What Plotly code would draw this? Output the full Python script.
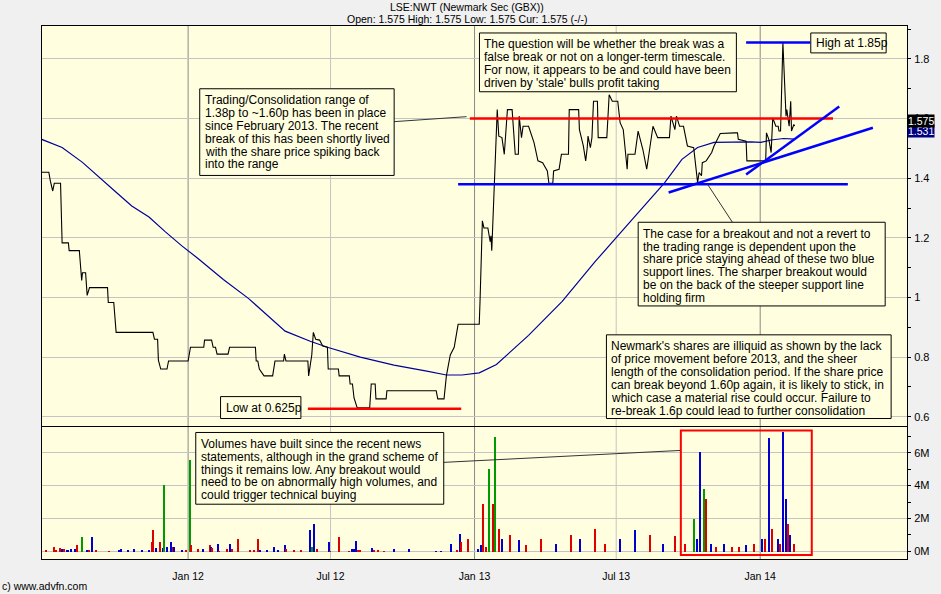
import plotly.graph_objects as go

# ------------------------------------------------------------------ data
price_dates = [
    "2011-06-28", "2011-07-07", "2011-07-09", "2011-07-12", "2011-07-14", "2011-07-22", "2011-07-24",
    "2011-08-01", "2011-08-02", "2011-08-15", "2011-08-18", "2011-08-19", "2011-08-23", "2011-08-25",
    "2011-08-28", "2011-09-20", "2011-09-21", "2011-09-28", "2011-10-01", "2011-11-17", "2011-11-19",
    "2011-11-23", "2011-11-24", "2011-11-27", "2011-12-05", "2011-12-07",
    "2012-01-01", "2012-01-04", "2012-01-21", "2012-01-22", "2012-01-31", "2012-02-02", "2012-02-05",
    "2012-02-07", "2012-02-21", "2012-02-23", "2012-03-27", "2012-03-28", "2012-03-30", "2012-04-01",
    "2012-04-07", "2012-04-18", "2012-04-21", "2012-05-02", "2012-05-03", "2012-05-05", "2012-06-02",
    "2012-06-03", "2012-06-07", "2012-06-09", "2012-06-12", "2012-06-17", "2012-06-21", "2012-06-27",
    "2012-06-28", "2012-07-11", "2012-07-12", "2012-07-25", "2012-07-26", "2012-07-29", "2012-07-31",
    "2012-08-04", "2012-08-20", "2012-08-22", "2012-08-27", "2012-08-28", "2012-09-10", "2012-09-11",
    "2012-11-13", "2012-11-15", "2012-11-23", "2012-11-26", "2012-12-01", "2012-12-06", "2012-12-11",
    "2013-01-07", "2013-01-08", "2013-01-11", "2013-01-13", "2013-01-18", "2013-01-21", "2013-01-22",
    "2013-01-23", "2013-01-30", "2013-02-01", "2013-02-05", "2013-02-08", "2013-02-12", "2013-02-18",
    "2013-02-22", "2013-02-26", "2013-02-27", "2013-03-02", "2013-03-04", "2013-03-11", "2013-03-18",
    "2013-03-23", "2013-03-29", "2013-04-04", "2013-04-06", "2013-04-11", "2013-04-12", "2013-04-19",
    "2013-04-22", "2013-05-01", "2013-05-02", "2013-05-14", "2013-05-15", "2013-05-20", "2013-05-23",
    "2013-05-25", "2013-05-26", "2013-05-29", "2013-05-31", "2013-06-02", "2013-06-07", "2013-06-08",
    "2013-06-19", "2013-06-21", "2013-06-22", "2013-06-26", "2013-07-03", "2013-07-06", "2013-07-10",
    "2013-07-15", "2013-07-16", "2013-07-25", "2013-07-29", "2013-08-04", "2013-08-09", "2013-08-17",
    "2013-08-23", "2013-09-07", "2013-09-09", "2013-09-14", "2013-09-16", "2013-09-20", "2013-09-25",
    "2013-09-30", "2013-10-08", "2013-10-13", "2013-10-15", "2013-10-18", "2013-10-19", "2013-10-24",
    "2013-10-31", "2013-11-03", "2013-11-11", "2013-11-29", "2013-12-03", "2013-12-04", "2013-12-14",
    "2013-12-15",
    "2014-01-08", "2014-01-09", "2014-01-12", "2014-01-15", "2014-01-17", "2014-01-21", "2014-01-24",
    "2014-01-25", "2014-01-27", "2014-01-30", "2014-02-02", "2014-02-03", "2014-02-04", "2014-02-07",
    "2014-02-09", "2014-02-10", "2014-02-13", "2014-02-14",
]
price_values = [
    1.42, 1.42, 1.39, 1.357, 1.383, 1.383, 1.183,
    1.183, 1.157, 1.157, 1.057, 1.083, 1.083, 1.007,
    1.033, 1.033, 0.983, 0.983, 0.883, 0.883, 0.86,
    0.86, 0.79, 0.76, 0.76, 0.787,
    0.787, 0.833, 0.833, 0.857, 0.857, 0.833, 0.833,
    0.81, 0.81, 0.833, 0.833, 0.787, 0.787, 0.76,
    0.737, 0.737, 0.787, 0.787, 0.81, 0.787, 0.787,
    0.737, 0.807, 0.883, 0.86, 0.857, 0.837, 0.833,
    0.76, 0.76, 0.737, 0.737, 0.71, 0.71, 0.663,
    0.63, 0.63, 0.71, 0.71, 0.66, 0.66, 0.687,
    0.687, 0.66, 0.66, 0.737, 0.807, 0.833, 0.91,
    0.91, 0.987, 1.257, 1.233, 1.233, 1.187, 1.207,
    1.157, 1.63, 1.541, 1.536, 1.48, 1.63, 1.63,
    1.48, 1.48, 1.608, 1.536, 1.574, 1.574, 1.519,
    1.458, 1.452, 1.424, 1.383, 1.383, 1.424, 1.43,
    1.48, 1.48, 1.63, 1.63, 1.563, 1.508, 1.458,
    1.502, 1.541, 1.502, 1.536, 1.658, 1.658, 1.536,
    1.536, 1.63, 1.68, 1.658, 1.658, 1.586, 1.563,
    1.43, 1.48, 1.48, 1.558, 1.497, 1.43, 1.574,
    1.536, 1.536, 1.608, 1.563, 1.608, 1.574, 1.574,
    1.508, 1.502, 1.386, 1.419, 1.408, 1.452, 1.458,
    1.486, 1.508, 1.55, 1.552, 1.552, 1.53, 1.524,
    1.458,
    1.458, 1.552, 1.53, 1.486, 1.602, 1.574, 1.574,
    1.558, 1.558, 1.855, 1.652, 1.608, 1.63, 1.574,
    1.658, 1.558, 1.58, 1.575,
]

ma_dates = [
    "2011-06-28", "2011-07-24", "2011-08-19", "2011-09-09", "2011-10-01", "2011-10-21", "2011-11-12",
    "2011-12-03", "2011-12-24", "2012-01-14", "2012-02-15", "2012-03-18", "2012-05-04", "2012-06-05",
    "2012-06-27", "2012-08-08", "2012-09-20", "2012-11-01", "2012-11-26", "2012-12-16", "2013-01-07",
    "2013-01-29", "2013-03-11", "2013-04-23", "2013-06-04", "2013-07-21", "2013-09-01", "2013-09-23",
    "2013-10-13", "2013-11-03", "2013-12-20", "2014-01-02", "2014-01-15", "2014-01-31", "2014-02-14",
]
ma_values = [
    1.53, 1.503, 1.453, 1.403, 1.353, 1.307, 1.27,
    1.22, 1.173, 1.13, 1.06, 0.997, 0.887, 0.853,
    0.833, 0.80, 0.773, 0.753, 0.74, 0.74, 0.747,
    0.775, 0.873, 0.987, 1.12, 1.26, 1.385, 1.463,
    1.503, 1.52, 1.522, 1.52, 1.528, 1.533, 1.531,
]

vol_dates = [
    "2011-07-04", "2011-07-14", "2011-07-17", "2011-07-21", "2011-07-24", "2011-07-27", "2011-07-30",
    "2011-08-01", "2011-08-05", "2011-08-10", "2011-08-12", "2011-08-19", "2011-08-25", "2011-08-28",
    "2011-08-31", "2011-09-01", "2011-09-06", "2011-09-22", "2011-10-05", "2011-10-08", "2011-10-17",
    "2011-10-24", "2011-11-03", "2011-11-12", "2011-11-16", "2011-11-18", "2011-11-21", "2011-11-27",
    "2011-11-30", "2011-12-02", "2011-12-05", "2011-12-11", "2011-12-13", "2011-12-14", "2011-12-24",
    "2011-12-30",
    "2012-01-04", "2012-01-05", "2012-01-14", "2012-01-20", "2012-01-29", "2012-01-31", "2012-02-01",
    "2012-02-08", "2012-02-10", "2012-02-20", "2012-02-24", "2012-02-27", "2012-03-05", "2012-03-20",
    "2012-03-26", "2012-03-31", "2012-04-02", "2012-04-11", "2012-04-20", "2012-04-25", "2012-05-04",
    "2012-05-05", "2012-05-16", "2012-05-24", "2012-06-05", "2012-06-07", "2012-06-10", "2012-06-14",
    "2012-06-29", "2012-07-01", "2012-07-12", "2012-07-25", "2012-07-29", "2012-07-31", "2012-08-03",
    "2012-08-05", "2012-08-08", "2012-08-23", "2012-08-26", "2012-08-31", "2012-09-08", "2012-09-21",
    "2012-10-09", "2012-11-13", "2012-11-20", "2012-12-02", "2012-12-10", "2012-12-14", "2012-12-15",
    "2012-12-24",
    "2013-01-06", "2013-01-09", "2013-01-12", "2013-01-16", "2013-01-20", "2013-01-25", "2013-01-27",
    "2013-02-01", "2013-02-06", "2013-02-16", "2013-02-27", "2013-03-08", "2013-03-27", "2013-04-15",
    "2013-05-04", "2013-05-16", "2013-06-04", "2013-06-17", "2013-07-06", "2013-07-25", "2013-08-13",
    "2013-08-30", "2013-09-14", "2013-09-27", "2013-10-09", "2013-10-13", "2013-10-17", "2013-10-21",
    "2013-10-24", "2013-10-30", "2013-11-06", "2013-11-16", "2013-11-26", "2013-12-05", "2013-12-14",
    "2013-12-24",
    "2014-01-03", "2014-01-08", "2014-01-13", "2014-01-17", "2014-01-24", "2014-01-27", "2014-01-31",
    "2014-02-03", "2014-02-06", "2014-02-09", "2014-02-13",
]
vol_millions = [
    0.06, 0.26, 0.1, 0.2, 0.14, 0.14, 0.06,
    0.06, 0.18, 0.14, 0.4, 0.9, 0.1, 0.06,
    0.9, 0.26, 0.06, 0.04, 0.06, 0.16, 0.06,
    0.18, 0.06, 0.06, 0.57, 1.3, 0.2, 0.57,
    0.2, 4.08, 0.3, 0.57, 0.3, 0.26, 0.06,
    0.06,
    5.62, 0.4, 0.14, 0.18, 0.44, 0.3, 0.24,
    0.5, 0.04, 0.18, 0.5, 0.14, 0.75, 0.06,
    0.06, 0.75, 0.06, 0.1, 0.26, 0.06, 0.4,
    0.14, 0.06, 0.06, 1.3, 0.3, 1.68, 0.14,
    0.6, 0.04, 0.87, 0.04, 0.18, 0.18, 0.65,
    0.1, 0.08, 0.2, 0.1, 0.1, 0.04, 0.16,
    0.16, 0.04, 0.04, 0.5, 0.06, 1.1, 0.6,
    0.75,
    0.16, 0.4, 2.93, 0.3, 5.05, 2.9, 7.0,
    1.4, 0.8, 1.05, 0.7, 0.4, 0.75, 0.5,
    1.05, 0.8, 1.4, 0.5, 0.75, 1.3, 1.05,
    0.5, 0.95, 0.5, 2.0, 0.8, 6.1, 3.8,
    3.2, 0.5, 0.3, 0.5, 0.3, 0.3, 0.4,
    0.5,
    0.8, 0.8, 6.9, 1.4, 0.8, 0.5, 7.3,
    3.2, 1.7, 1.05, 0.5,
]
vol_colors = [
    "r", "r", "r", "r", "b", "r", "b",
    "b", "b", "b", "r", "g", "b", "r",
    "b", "b", "r", "r", "b", "b", "b",
    "b", "b", "b", "r", "r", "b", "r",
    "b", "g", "b", "b", "r", "b", "b",
    "r",
    "g", "r", "r", "b", "r", "b", "r",
    "b", "r", "r", "b", "r", "r", "r",
    "r", "r", "b", "b", "b", "b", "b",
    "r", "r", "r", "b", "g", "b", "r",
    "b", "r", "r", "r", "b", "b", "b",
    "r", "r", "b", "r", "r", "r", "b",
    "b", "b", "b", "b", "r", "b", "r",
    "r",
    "b", "b", "r", "r", "g", "r", "g",
    "r", "b", "r", "b", "r", "r", "b",
    "r", "b", "r", "r", "b", "b", "r",
    "b", "r", "r", "g", "b", "b", "g",
    "r", "b", "r", "b", "r", "r", "b",
    "r",
    "b", "r", "b", "r", "b", "r", "b",
    "b", "r", "b", "r",
]

x_tick_vals = ["2012-01-01", "2012-07-01", "2013-01-01", "2013-07-01", "2014-01-01"]
x_tick_text = ["Jan 12", "Jul 12", "Jan 13", "Jul 13", "Jan 14"]
price_tick_vals = [0.6, 0.8, 1.0, 1.2, 1.4, 1.6, 1.8]
price_tick_text = ["0.6", "0.8", "1", "1.2", "1.4", "1.6", "1.8"]
vol_tick_vals = [0, 2e6, 4e6, 6e6]
vol_tick_text = ["0M", "2M", "4M", "6M"]

last_price = 1.575
last_ma = 1.531
range_top = 1.60
range_top_span = ["2012-12-26", "2014-04-04"]
range_bottom = 1.38
range_bottom_span = ["2012-12-11", "2014-04-23"]
low_level = 0.627
low_span = ["2012-06-02", "2012-12-15"]
high_level = 1.855
high_span = ["2013-12-14", "2014-03-06"]
support_shallow = [("2013-09-06", 1.352), ("2014-05-25", 1.569)]
support_steep = [("2013-12-14", 1.412), ("2014-04-12", 1.64)]

# ------------------------------------------------------------------ layout helpers
FONT = "Liberation Sans, Arial, sans-serif"
W, H = 941, 594
L, R, T, B = 42, 914, 26, 561


def px(x):
    return (x - L) / (R - L)


def py(y):
    return (B - y) / (B - T)


cmap = {"r": "#dd0000", "b": "#0000cc", "g": "#009900"}
vol_values = [v * 1e6 for v in vol_millions]

fig = go.Figure()
fig.add_trace(go.Scatter(x=ma_dates, y=ma_values, mode="lines",
                         line=dict(color="#000099", width=1.2), xaxis="x", yaxis="y",
                         hoverinfo="skip"))
fig.add_trace(go.Scatter(x=price_dates, y=price_values, mode="lines",
                         line=dict(color="#000000", width=1.1), xaxis="x", yaxis="y"))
fig.add_trace(go.Bar(x=vol_dates, y=vol_values, marker=dict(color=[cmap[c] for c in vol_colors],
                                                            line=dict(width=0)),
                     width=1.9 * 86400000, xaxis="x2", yaxis="y2"))

shapes = []
# vertical grid lines (year starts darker)
for v in x_tick_vals:
    col = "#888888" if v.endswith("01-01") else "#c4c4c4"
    shapes.append(dict(type="line", xref="x", yref="paper", x0=v, x1=v, y0=0, y1=1,
                       line=dict(color=col, width=1), layer="below"))

# analysis lines in data space
shapes += [
    dict(type="line", xref="x", yref="y", x0=range_top_span[0], x1=range_top_span[1],
         y0=range_top, y1=range_top, line=dict(color="#ff0000", width=2.5)),
    dict(type="line", xref="x", yref="y", x0=range_bottom_span[0], x1=range_bottom_span[1],
         y0=range_bottom, y1=range_bottom, line=dict(color="#0000ff", width=2.5)),
    dict(type="line", xref="x", yref="y", x0=low_span[0], x1=low_span[1],
         y0=low_level, y1=low_level, line=dict(color="#ff0000", width=2.5)),
    dict(type="line", xref="x", yref="y", x0=high_span[0], x1=high_span[1],
         y0=high_level, y1=high_level, line=dict(color="#0000ff", width=2.5)),
    dict(type="line", xref="x", yref="y", x0=support_shallow[0][0], x1=support_shallow[1][0],
         y0=support_shallow[0][1], y1=support_shallow[1][1], line=dict(color="#0000ff", width=2.5)),
    dict(type="line", xref="x", yref="y", x0=support_steep[0][0], x1=support_steep[1][0],
         y0=support_steep[0][1], y1=support_steep[1][1], line=dict(color="#0000ff", width=2.5)),
]

# connector lines (paper)
for (x0, y0, x1, y1) in [(397, 122, 470, 117), (713, 185, 738, 223), (447, 464, 686, 452)]:
    shapes.append(dict(type="line", xref="paper", yref="paper", x0=px(x0), y0=py(y0),
                       x1=px(x1), y1=py(y1), line=dict(color="#333333", width=1)))

# red box around recent volume
shapes.append(dict(type="rect", xref="paper", yref="paper", x0=px(686), x1=px(818),
                   y0=py(557), y1=py(432), line=dict(color="#ff0000", width=2)))

boxes = [
    ((201, 89, 397, 176), ["Trading/Consolidation range of",
                           "1.38p to ~1.60p has been in place",
                           "since February 2013. The recent",
                           "break of this has been shortly lived",
                           "with the share price spiking back",
                           "into the range"]),
    ((483, 33, 742, 92), ["The question will be whether the break was a",
                          "false break or not on a longer-term timescale.",
                          "For now, it appears to be and could have been",
                          "driven by 'stale' bulls profit taking"]),
    ((817, 33, 893, 53), ["High at 1.85p"]),
    ((643, 223, 892, 307), ["The case for a breakout and not a revert to",
                            "the trading range is dependent upon the",
                            "share price staying ahead of these two blue",
                            "support lines. The sharper breakout would",
                            "be on the back of the steeper support line",
                            "holding firm"]),
    ((611, 336, 898, 420), ["Newmark's shares are illiquid as shown by the lack",
                            "of price movement before 2013, and the sheer",
                            "length of the consolidation period. If the share price",
                            "can break beyond 1.60p again, it is likely to stick, in",
                            "which case a material rise could occur. Failure to",
                            "re-break 1.6p could lead to further consolidation"]),
    ((222, 398, 303, 420), ["Low at 0.625p"]),
    ((197, 434, 447, 506), ["Volumes have built since the recent news",
                            "statements, although in the grand scheme of",
                            "things it remains low. Any breakout would",
                            "need to be on abnormally high volumes, and",
                            "could trigger technical buying"]),
]

annotations = []
for (x0, y0, x1, y1), lines in boxes:
    shapes.append(dict(type="rect", xref="paper", yref="paper", x0=px(x0), x1=px(x1),
                       y0=py(y1), y1=py(y0), fillcolor="#ffffe0",
                       line=dict(color="#000000", width=1), layer="above"))
    if len(lines) == 1:
        centers = [(y0 + y1) / 2]
    else:
        centers = [y0 + 11.5 + i * 12.9 for i in range(len(lines))]
    for txt, cy in zip(lines, centers):
        annotations.append(dict(xref="paper", yref="paper", x=px(x0 + 3), y=py(cy),
                                xanchor="left", yanchor="middle", showarrow=False, text=txt,
                                font=dict(family=FONT, size=12, color="#000000")))

# title lines
annotations.append(dict(xref="paper", yref="paper", x=px(470.5), y=py(6.5), xanchor="center",
                        yanchor="middle", showarrow=False, text="LSE:NWT (Newmark Sec (GBX))",
                        font=dict(family=FONT, size=10.5, color="#000000")))
annotations.append(dict(xref="paper", yref="paper", x=px(470.5), y=py(18.5), xanchor="center",
                        yanchor="middle", showarrow=False,
                        text="Open: 1.575 High: 1.575 Low: 1.575 Cur: 1.575 (-/-)",
                        font=dict(family=FONT, size=10.5, color="#000000")))
annotations.append(dict(xref="paper", yref="paper", x=px(0), y=py(588.5), xanchor="left",
                        yanchor="middle", showarrow=False, text="c) www.advfn.com",
                        font=dict(family=FONT, size=10.5, color="#000000")))
# last value labels
annotations.append(dict(xref="paper", yref="paper", x=px(914), y=py(131), xanchor="left",
                        yanchor="middle", showarrow=False, text=f"{last_ma:.3f}", bgcolor="#000080",
                        borderpad=0, font=dict(family=FONT, size=10.5, color="#ffffff")))
annotations.append(dict(xref="paper", yref="paper", x=px(914), y=py(121), xanchor="left",
                        yanchor="middle", showarrow=False, text=f"{last_price:.3f}", bgcolor="#000000",
                        borderpad=0, font=dict(family=FONT, size=10.5, color="#ffffff")))

x_range = ["2011-06-28 07:00", "2014-07-07 14:00"]
common_x = dict(range=x_range, type="date", showgrid=False, zeroline=False, showline=True,
                linecolor="#000000", linewidth=1, mirror=True, tickvals=x_tick_vals,
                ticktext=x_tick_text, ticks="", tickfont=dict(family=FONT, size=10.5, color="#000000"))

fig.update_layout(
    width=W, height=H,
    margin=dict(l=L, r=W - R, t=T, b=H - B),
    paper_bgcolor="#f0f0f0", plot_bgcolor="#ffffe0",
    showlegend=False, bargap=0,
    font=dict(family=FONT, size=11, color="#000000"),
    xaxis=dict(common_x, anchor="y", domain=[0, 1], showticklabels=False),
    xaxis2=dict(common_x, anchor="y2", domain=[0, 1], matches="x", showticklabels=True,
                ticklabelstandoff=7),
    yaxis=dict(domain=[0.249, 1], range=[0.568, 1.9103], side="right", anchor="x",
               tickvals=price_tick_vals, ticktext=price_tick_text, ticks="outside", ticklen=3,
               tickcolor="#000000", showgrid=True, gridcolor="#c4c4c4", gridwidth=1,
               zeroline=False, showline=True, linecolor="#000000", mirror=True,
               tickfont=dict(family=FONT, size=11, color="#000000"), ticklabelstandoff=1,
               minor=dict(dtick=0.1, tick0=0.5, ticks="outside", ticklen=3, tickcolor="#000000",
                          showgrid=False)),
    yaxis2=dict(domain=[0, 0.2485], range=[-0.47e6, 7.6e6], side="right", anchor="x2",
                tickvals=vol_tick_vals, ticktext=vol_tick_text, ticks="outside", ticklen=3,
                tickcolor="#000000", showgrid=True, gridcolor="#c4c4c4", gridwidth=1,
                zeroline=False, showline=True, linecolor="#000000", mirror=True,
                tickfont=dict(family=FONT, size=11, color="#000000"), ticklabelstandoff=1,
                minor=dict(dtick=1e6, tick0=0, ticks="outside", ticklen=3, tickcolor="#000000",
                           showgrid=False)),
    shapes=shapes,
    annotations=annotations,
)

fig.write_html("out.html",
               config={"displayModeBar": False},
               post_script="document.body.style.margin='0px';document.body.style.background='#f0f0f0';")
